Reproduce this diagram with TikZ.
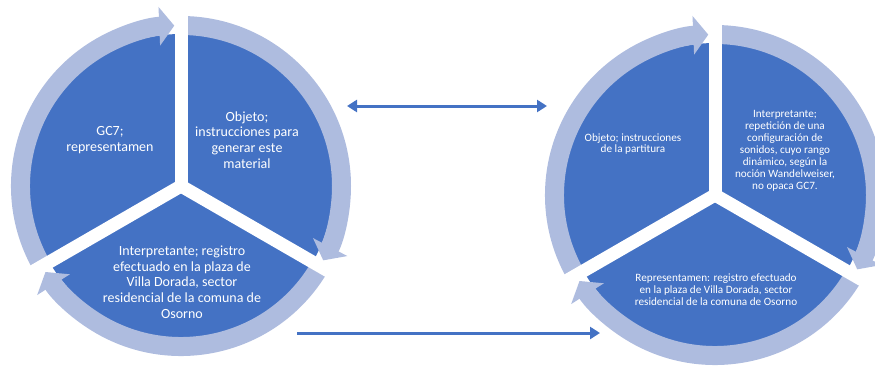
\documentclass[tikz,border=0pt]{standalone}
\usepackage{fontspec}
\setmainfont{Carlito}
\usepackage{xcolor}
\usepackage{tikz}
\usetikzlibrary{arrows.meta,positioning,calc}
\definecolor{segblue}{HTML}{4472C4}
\definecolor{ringblue}{HTML}{AEBCDF}

\begin{document}
\begin{tikzpicture}[
    x=1pt, y=1pt,
    seg/.style={fill=segblue},
    ring/.style={draw=ringblue, line width=19pt, -{Triangle[width=38pt,length=15pt]}},
    gap/.style={draw=white, line width=13pt},
    bigtxt/.style={text=white, align=center, font=\fontsize{14}{15.7}\selectfont},
    smalltxt/.style={text=white, align=center, font=\fontsize{11.2}{11.9}\selectfont},
    link/.style={draw=segblue, line width=3pt}
]
\useasboundingbox (0,0) rectangle (875,365);

\coordinate (cl) at (181,179);
\coordinate (cr) at (715,170);

\fill[seg] (cl) -- ++(90:152) arc[start angle=90, end angle=210, radius=152] -- cycle;
\fill[seg] (cl) -- ++(-30:152) arc[start angle=-30, end angle=90, radius=152] -- cycle;
\fill[seg] (cl) -- ++(210:152) arc[start angle=210, end angle=330, radius=152] -- cycle;
\draw[ring] ($(cl)+(210:160.5)$) arc[start angle=210, end angle=92.4, radius=160.5];
\draw[ring] ($(cl)+(90:160.5)$) arc[start angle=90, end angle=-27.6, radius=160.5];
\draw[ring] ($(cl)+(-30:160.5)$) arc[start angle=-30, end angle=-147.6, radius=160.5];
\draw[gap] (cl) -- ++(90:185);
\draw[gap] (cl) -- ++(210:185);
\draw[gap] (cl) -- ++(330:185);

\fill[seg] (cr) -- ++(90:152) arc[start angle=90, end angle=210, radius=152] -- cycle;
\fill[seg] (cr) -- ++(-30:152) arc[start angle=-30, end angle=90, radius=152] -- cycle;
\fill[seg] (cr) -- ++(210:152) arc[start angle=210, end angle=330, radius=152] -- cycle;
\draw[ring] ($(cr)+(210:160.5)$) arc[start angle=210, end angle=92.4, radius=160.5];
\draw[ring] ($(cr)+(90:160.5)$) arc[start angle=90, end angle=-27.6, radius=160.5];
\draw[ring] ($(cr)+(-30:160.5)$) arc[start angle=-30, end angle=-147.6, radius=160.5];
\draw[gap] (cr) -- ++(90:185);
\draw[gap] (cr) -- ++(210:185);
\draw[gap] (cr) -- ++(330:185);

\node[bigtxt] (gc) at (110,225) {GC7;\\representamen};
\node[bigtxt] (objizq) at (247,225) {Objeto;\\instrucciones para\\generar este\\material};
\node[bigtxt] (intizq) at (182,83) {Interpretante; registro\\efectuado en la plaza de\\Villa Dorada, sector\\residencial de la comuna de\\Osorno};

\node[smalltxt] (objder) at (633,221) {Objeto; instrucciones\\de la partitura};
\node[smalltxt] (intder) at (785,214) {Interpretante;\\repetición de una\\configuración de\\sonidos, cuyo rango\\dinámico, según la\\noción Wandelweiser,\\no opaca GC7.};
\node[smalltxt] (repder) at (716,75) {Representamen: registro efectuado\\en la plaza de Villa Dorada, sector\\residencial de la comuna de Osorno};

\coordinate (topa) at (347,259);
\coordinate (topb) at (547,259);
\coordinate (bota) at (297,32);
\coordinate (botb) at (600,32);
\draw[link, {Triangle[width=12pt,length=10pt]}-{Triangle[width=12pt,length=10pt]}] (topa) -- (topb);
\draw[link, -{Triangle[width=12pt,length=10pt]}] (bota) -- (botb);
\end{tikzpicture}
\end{document}
